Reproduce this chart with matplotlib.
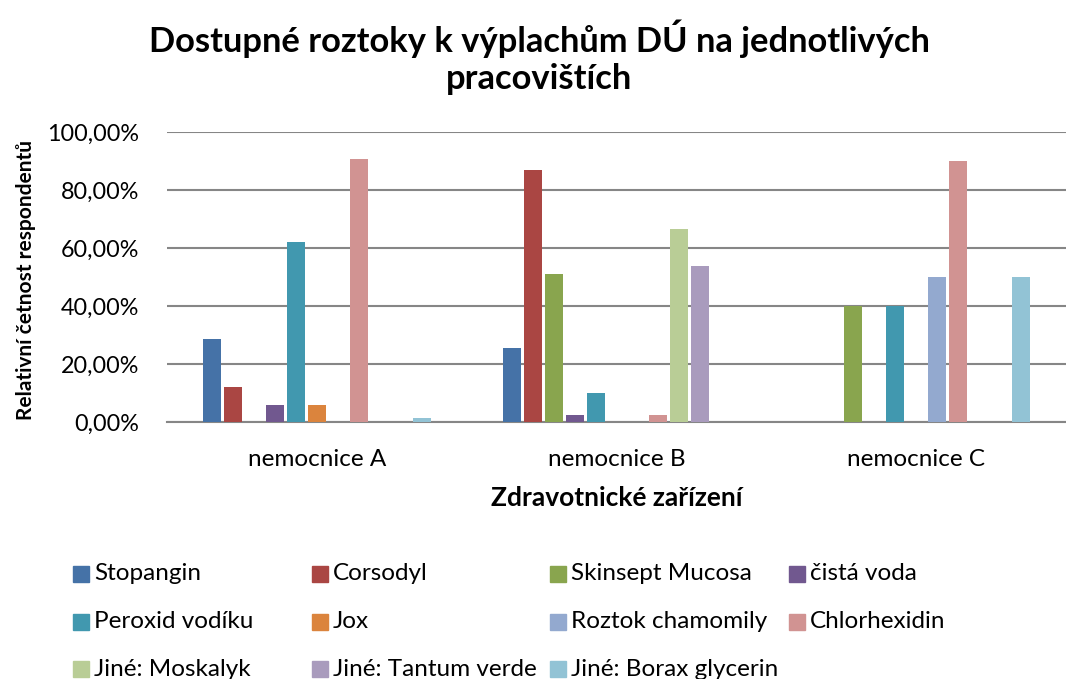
import numpy as np
import matplotlib.pyplot as plt
from matplotlib.patches import Rectangle
from matplotlib.ticker import FuncFormatter

plt.rcParams['font.family'] = ['Lato', 'DejaVu Sans']

groups = ['nemocnice A', 'nemocnice B', 'nemocnice C']
series = ['Stopangin', 'Corsodyl', 'Skinsept Mucosa', 'čistá voda',
          'Peroxid vodíku', 'Jox', 'Roztok chamomily', 'Chlorhexidin',
          'Jiné: Moskalyk', 'Jiné: Tantum verde', 'Jiné: Borax glycerin']
colors = ['#4572A7', '#AA4643', '#89A54E', '#71588F', '#4198AF', '#DB843D',
          '#93A9CF', '#D19392', '#B9CD96', '#A99BBD', '#92C3D5']

# relative frequencies (%) per series, for nemocnice A, B, C
stopangin = [28.79, 25.64, 0]
corsodyl = [12.12, 87.18, 0]
skinsept = [0, 51.28, 40.0]
cista_voda = [6.06, 2.56, 0]
peroxid = [62.12, 10.26, 40.0]
jox = [6.06, 0, 0]
chamomila = [0, 0, 50.0]
chlorhexidin = [90.91, 2.56, 90.0]
moskalyk = [0, 66.67, 0]
tantum = [0, 53.85, 0]
borax = [1.52, 0, 50.0]

values = [stopangin, corsodyl, skinsept, cista_voda, peroxid, jox,
          chamomila, chlorhexidin, moskalyk, tantum, borax]

fig = plt.figure(figsize=(10.66, 6.79), dpi=100)
ax = fig.add_axes([0.1567, 0.378, 0.8433, 0.427])

x = np.arange(len(groups))
step = 0.07
width = 0.06
for i, (name, vals) in enumerate(zip(series, values)):
    pos = x + (i - (len(series) - 1) / 2) * step
    ax.bar(pos, np.array(vals) / 100, width, color=colors[i], label=name, zorder=3)

ax.set_xlim(-0.5, 2.5)
ax.set_ylim(0, 1.0)
ax.set_yticks(np.arange(0, 1.01, 0.2))
ax.yaxis.set_major_formatter(FuncFormatter(lambda v, p: f'{v*100:.2f}%'.replace('.', ',')))
ax.grid(axis='y', color='#868686', linewidth=1.5, zorder=0)
for s in ['top', 'right', 'left']:
    ax.spines[s].set_visible(False)
ax.spines['bottom'].set_color('#868686')
ax.spines['bottom'].set_linewidth(1.5)
ax.tick_params(axis='y', length=0, labelsize=16.8, pad=20)
ax.tick_params(axis='x', length=0, labelsize=17.5, pad=19)
ax.set_xticks(x)
ax.set_xticklabels(groups)

ax.set_ylabel('Relativní četnost respondentů', fontsize=15, fontweight='bold')
ax.yaxis.set_label_coords(-0.146, 0.49)
ax.set_xlabel('Zdravotnické zařízení', fontsize=19, fontweight='bold', labelpad=12)

fig.suptitle('Dostupné roztoky k výplachům DÚ na jednotlivých\npracovištích',
             x=0.506, y=0.972, fontsize=24.8, fontweight='bold', linespacing=1.2)

# legend, filled row by row like the original
col_x = [73, 312, 550, 789]
row_y = [574, 622, 669]
W, H = 1066, 679
for i, name in enumerate(series):
    r, c = divmod(i, 4)
    fig.patches.append(Rectangle((col_x[c] / W, 1 - (row_y[r] + 8) / H), 16 / W, 16 / H,
                                 transform=fig.transFigure, color=colors[i]))
    fig.text((col_x[c] + 21) / W, 1 - row_y[r] / H, name, fontsize=17.5, va='center')

fig.savefig('out.png', dpi=100)
